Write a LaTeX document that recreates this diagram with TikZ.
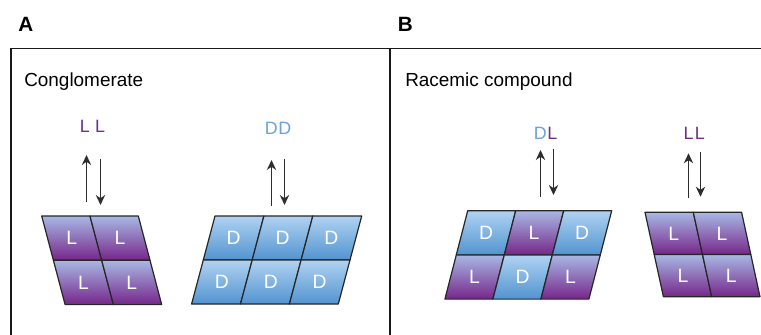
\documentclass[tikz,border=0pt]{standalone}
\usepackage{fontspec}
\setmainfont{Liberation Sans}
\usetikzlibrary{arrows.meta}
\definecolor{Ltop}{RGB}{168,184,228}
\definecolor{Lmid}{RGB}{140,115,185}
\definecolor{Lbot}{RGB}{118,38,138}
\definecolor{Dtop}{RGB}{176,210,242}
\definecolor{Dmid}{RGB}{98,160,216}
\definecolor{Dbot}{RGB}{82,148,208}
\definecolor{Ltext}{RGB}{112,46,145}
\definecolor{Dtext}{RGB}{108,160,220}
\definecolor{arrowgray}{RGB}{45,45,45}
\tikzset{
  Lshade/.style={top color=Ltop, middle color=Lmid, bottom color=Lbot},
  Dshade/.style={top color=Dtop, middle color=Dmid, bottom color=Dbot},
  cellline/.style={draw=black!85, line width=0.9pt, line join=round},
  celltext/.style={text=white, font=\fontsize{14.5}{16}\selectfont, inner sep=0pt},
  toplabel/.style={font=\fontsize{13.4}{15}\selectfont, inner sep=0pt, anchor=base},
  panel/.style={font=\bfseries\fontsize{15.5}{18}\selectfont, inner sep=0pt, anchor=base west},
  title/.style={font=\fontsize{14.2}{17}\selectfont, inner sep=0pt, anchor=base west},
  frame/.style={line width=1.1pt, draw=black!90},
  eqarrow/.style={draw=arrowgray, line width=1.1pt, -{Stealth[length=7.5pt,width=7pt]}}
}
% #1 x top-left, #2 y top, #3 cell width, #4 row height, #5 shift of bottom, #6 L or D, #7 name
\newcommand\xcell[7]{%
  \shade[#6shade] (#1,#2) -- ++(#3,0) -- ++(#5,#4) -- ++(-#3,0) -- cycle;
  \draw[cellline] (#1,#2) -- ++(#3,0) -- ++(#5,#4) -- ++(-#3,0) -- cycle;
  \node[celltext] (#7) at ({#1+#3/2+#5/2},{#2+#4/2}) {#6};
}
\begin{document}
\begin{tikzpicture}[x=0.75pt,y=-0.75pt]
\useasboundingbox (0,0) rectangle (761,335);
% frame
\draw[frame] (11,335) -- (11,48.3) -- (761,48.3);
\draw[frame, line width=1.5pt] (390,48.3) -- (390,335);
% panel labels and titles
\node[panel] (pA) at (18,31.7) {A};
\node[panel] (pB) at (397.5,31.7) {B};
\node[title] (tA) at (24,86.7) {Conglomerate};
\node[title] (tB) at (405,86.7) {Racemic compound};

% ---- Crystal 1: L conglomerate
\node[toplabel, text=Ltext] (lab1) at (92.5,132.3) {L\hspace{4pt}L};
\coordinate (u1s) at (86.5,201.7); \coordinate (u1e) at (86.5,155);
\coordinate (d1s) at (100.5,159.3); \coordinate (d1e) at (100.5,205);
\draw[eqarrow] (u1s) -- (u1e);
\draw[eqarrow] (d1s) -- (d1e);
\xcell{41.7}{216}{48.3}{44.3}{11.7}{L}{c11}
\xcell{90.0}{216}{48.3}{44.3}{11.7}{L}{c12}
\xcell{53.4}{260.3}{48.3}{44.3}{11.7}{L}{c13}
\xcell{101.7}{260.3}{48.3}{44.3}{11.7}{L}{c14}

% ---- Crystal 2: D conglomerate
\node[toplabel, text=Dtext] (lab2) at (278,134) {D\hspace{0.5pt}D};
\coordinate (u2s) at (271.5,206); \coordinate (u2e) at (271.5,160);
\coordinate (d2s) at (284.5,159.3); \coordinate (d2e) at (284.5,205);
\draw[eqarrow] (u2s) -- (u2e);
\draw[eqarrow] (d2s) -- (d2e);
\xcell{215}{216}{48.9}{44}{-11.7}{D}{c21}
\xcell{263.9}{216}{48.9}{44}{-11.7}{D}{c22}
\xcell{312.8}{216}{48.9}{44}{-11.7}{D}{c23}
\xcell{203.3}{260}{48.9}{44}{-11.7}{D}{c24}
\xcell{252.2}{260}{48.9}{44}{-11.7}{D}{c25}
\xcell{301.1}{260}{48.9}{44}{-11.7}{D}{c26}

% ---- Crystal 3: racemic compound
\node[toplabel] (lab3) at (545.5,139) {\textcolor{Dtext}{D}\hspace{0.5pt}\textcolor{Ltext}{L}};
\coordinate (u3s) at (540.5,196.7); \coordinate (u3e) at (540.5,150);
\coordinate (d3s) at (553.5,149.3); \coordinate (d3e) at (553.5,195);
\draw[eqarrow] (u3s) -- (u3e);
\draw[eqarrow] (d3s) -- (d3e);
\xcell{467.7}{210.7}{48}{44.2}{-11.4}{D}{c31}
\xcell{515.7}{210.7}{48}{44.2}{-11.4}{L}{c32}
\xcell{563.7}{210.7}{48}{44.2}{-11.4}{D}{c33}
\xcell{456.3}{254.9}{48}{44.2}{-11.4}{L}{c34}
\xcell{504.3}{254.9}{48}{44.2}{-11.4}{D}{c35}
\xcell{552.3}{254.9}{48}{44.2}{-11.4}{L}{c36}

% ---- Crystal 4: L racemic side
\node[toplabel, text=Ltext] (lab4) at (694.3,139) {L\hspace{1pt}L};
\coordinate (u4s) at (688.5,198.3); \coordinate (u4e) at (688.5,153.3);
\coordinate (d4s) at (700.5,151.7); \coordinate (d4e) at (700.5,196.7);
\draw[eqarrow] (u4s) -- (u4e);
\draw[eqarrow] (d4s) -- (d4e);
\xcell{645}{212.3}{48.3}{42.2}{9.2}{L}{c41}
\xcell{693.3}{212.3}{48.3}{42.2}{9.2}{L}{c42}
\xcell{654.2}{254.5}{48.3}{42.2}{9.2}{L}{c43}
\xcell{702.5}{254.5}{48.3}{42.2}{9.2}{L}{c44}
\end{tikzpicture}
\end{document}
